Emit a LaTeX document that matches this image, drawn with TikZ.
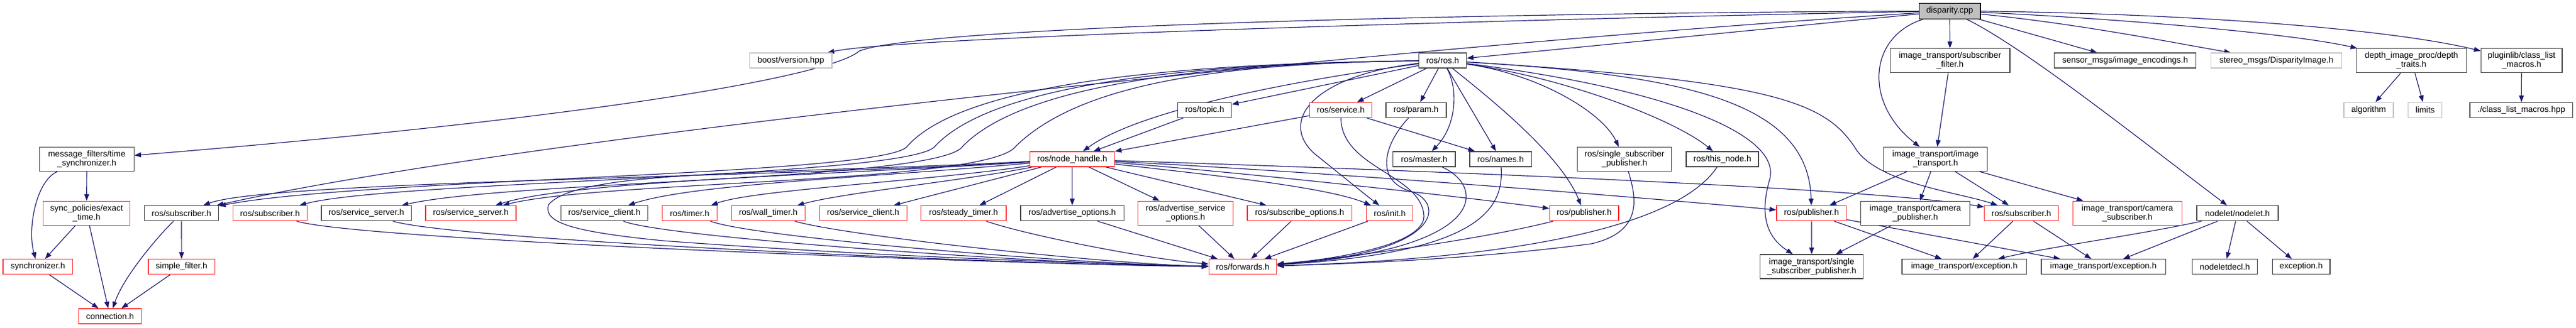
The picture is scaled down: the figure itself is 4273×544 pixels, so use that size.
\documentclass[tikz,border=0pt]{standalone}
\usepackage{fontspec}
\setmainfont{Liberation Sans}
\usetikzlibrary{arrows.meta}
\pgfdeclarelayer{bg}
\pgfsetlayers{bg,main}
\definecolor{edgeblue}{HTML}{191970}
\definecolor{nodered}{HTML}{FF2A2A}
\definecolor{nodeblack}{HTML}{404040}
\definecolor{nodegray}{HTML}{BFBFBF}
\newcommand\nodefs{\fontsize{14}{15}\selectfont}
\tikzset{
  nb/.style={draw=nodeblack, line width=1.3pt, fill=white, inner sep=0pt, font=\nodefs, align=center, rectangle},
  nr/.style={nb, draw=nodered},
  ng/.style={nb, draw=nodegray},
  one/.style={minimum height=25pt},
  two/.style={minimum height=40pt},
  e/.style={draw=edgeblue, line width=1.2pt, -{Triangle[length=11pt,width=8pt]}},
}
\begin{document}
\begin{tikzpicture}[x=1pt,y=-1pt]
\useasboundingbox (0,0) rectangle (4273,544);
% row 0
\node[nb, fill=nodegray, draw=black, minimum width=101.5pt, minimum height=26pt] (D) at (3234.2,18.2) {disparity.cpp};
% row 1
\node[ng, one, minimum width=136.4pt] (boost) at (1311.8,100.6) {boost/version.hpp};
\node[nb, one, minimum width=79pt] (ros) at (2393,100.6) {ros/ros.h};
\node[nb, two, minimum width=198.8pt] (subfilt) at (3234.6,100.8) {image\_transport/subscriber\\\_filter.h};
\node[nb, one, minimum width=235pt] (sensor) at (3525,100.6) {sensor\_msgs/image\_encodings.h};
\node[ng, one, minimum width=217pt] (stereo) at (3776.1,100.6) {stereo\_msgs/DisparityImage.h};
\node[nb, two, minimum width=182.4pt] (depth) at (4000,100.8) {depth\_image\_proc/depth\\\_traits.h};
\node[nb, two, minimum width=134.6pt] (plugin) at (4182.7,100.8) {pluginlib/class\_list\\\_macros.h};
% row 2
\node[nb, one, minimum width=89pt] (topic) at (1998.3,182.7) {ros/topic.h};
\node[nr, one, minimum width=103pt] (service) at (2224,182.7) {ros/service.h};
\node[nb, one, minimum width=100pt] (param) at (2348.9,182.7) {ros/param.h};
\node[ng, one, minimum width=82pt] (algorithm) at (3929,182.7) {algorithm};
\node[ng, one, minimum width=56pt] (limits) at (4022.7,182.7) {limits};
\node[nb, one, minimum width=170.7pt] (clm) at (4182.4,182.7) {./class\_list\_macros.hpp};
% row 3
\node[nb, two, minimum width=156.5pt] (mf) at (144,264.5) {message\_filters/time\\\_synchronizer.h};
\node[nr, one, minimum width=140pt] (nh) at (1778.6,264.4) {ros/node\_handle.h};
\node[nb, one, minimum width=103.3pt] (master) at (2362.4,264.4) {ros/master.h};
\node[nb, one, minimum width=102.4pt] (names) at (2489.1,264.4) {ros/names.h};
\node[nb, two, minimum width=156pt] (rssp) at (2694.6,264.5) {ros/single\_subscriber\\\_publisher.h};
\node[nb, one, minimum width=120pt] (thisnode) at (2857,264.4) {ros/this\_node.h};
\node[nb, two, minimum width=171.7pt] (itt) at (3210.5,264.5) {image\_transport/image\\\_transport.h};
% row 4
\node[nr, two, minimum width=144.2pt] (sync) at (143.7,354.2) {sync\_policies/exact\\\_time.h};
\node[nb, one, minimum width=123.5pt] (n1) at (301,354.3) {ros/subscriber.h};
\node[nr, one, minimum width=122.6pt] (n2) at (447.9,354.3) {ros/subscriber.h};
\node[nb, one, minimum width=149.3pt] (n3) at (607.7,354.3) {ros/service\_server.h};
\node[nr, one, minimum width=150pt] (n4) at (781,354.3) {ros/service\_server.h};
\node[nb, one, minimum width=144.2pt] (n5) at (1002.6,354.3) {ros/service\_client.h};
\node[nr, one, minimum width=91pt] (n6) at (1144,354.3) {ros/timer.h};
\node[nr, one, minimum width=122pt] (n7) at (1274.4,354.3) {ros/wall\_timer.h};
\node[nr, one, minimum width=145pt] (n8) at (1431.8,354.3) {ros/service\_client.h};
\node[nr, one, minimum width=141.4pt] (n9) at (1598.3,354.3) {ros/steady\_timer.h};
\node[nb, one, minimum width=171.3pt] (n10) at (1778.6,354.3) {ros/advertise\_options.h};
\node[nr, two, minimum width=158pt] (n11) at (1966.6,354.2) {ros/advertise\_service\\\_options.h};
\node[nr, one, minimum width=173.3pt] (n12) at (2155.7,354.3) {ros/subscribe\_options.h};
\node[nr, one, minimum width=77pt] (n13) at (2305.3,354.3) {ros/init.h};
\node[nr, one, minimum width=114.4pt] (n14) at (2627.8,354.3) {ros/publisher.h};
\node[nr, one, minimum width=115.7pt] (n15) at (3004.8,354.3) {ros/publisher.h};
\node[nb, two, minimum width=181pt] (n16) at (3177,354.2) {image\_transport/camera\\\_publisher.h};
\node[nr, one, minimum width=122.6pt] (n17) at (3353,354.3) {ros/subscriber.h};
\node[nr, two, minimum width=181pt] (n18) at (3528.8,354.2) {image\_transport/camera\\\_subscriber.h};
\node[nb, one, minimum width=135pt] (nodelet) at (3711.5,354.3) {nodelet/nodelet.h};
% row 5
\node[nr, one, minimum width=115.2pt] (syncr) at (62.7,443.3) {synchronizer.h};
\node[nr, one, minimum width=110.2pt] (simple) at (301.2,443.3) {simple\_filter.h};
\node[nr, one, minimum width=112.5pt] (fwd) at (2061.5,443.3) {ros/forwards.h};
\node[nb, two, minimum width=170.8pt] (itssp) at (3005.2,443) {image\_transport/single\\\_subscriber\_publisher.h};
\node[nb, one, minimum width=206.5pt] (exc1) at (3258.3,443.3) {image\_transport/exception.h};
\node[nb, one, minimum width=206.3pt] (exc2) at (3489,443.3) {image\_transport/exception.h};
\node[nb, one, minimum width=108pt] (ndecl) at (3690.6,443.3) {nodeletdecl.h};
\node[nb, one, minimum width=95.7pt] (exc) at (3817,443.3) {exception.h};
% row 6
\node[nr, one, minimum width=104.2pt] (conn) at (182.5,525.5) {connection.h};

\begin{pgfonlayer}{bg}
% disparity.cpp
\draw[e] (D) .. controls (2600,30) and (1500,60) .. (boost);
\draw[e] (D) -- (ros);
\draw[e] (D) .. controls (2400,22) and (1520,45) .. (1425,85) .. controls (1380,125) and (1000,195) .. (mf);
\draw[e] (D) .. controls (2400,70) and (900,220) .. (n1);
\draw[e] (D) -- (subfilt);
\draw[e] (D) .. controls (3100,60) and (3090,170) .. (itt);
\draw[e] (D) -- (sensor);
\draw[e] (D) .. controls (3450,40) and (3600,70) .. (stereo);
\draw[e] (D) .. controls (3500,30) and (3800,55) .. (depth);
\draw[e] (D) .. controls (3600,22) and (3950,45) .. (plugin);
\draw[e] (D) .. controls (3360,80) and (3560,240) .. (nodelet);
\draw[e] (subfilt) -- (itt);
% ros/ros.h
\draw[e] (ros) -- (topic);
\draw[e] (ros) .. controls (2100,140) and (1880,190) .. (nh);
\draw[e] (ros) -- (service);
\draw[e] (ros) -- (param);
\draw[e] (ros) .. controls (2420,150) and (2415,210) .. (master);
\draw[e] (ros) -- (names);
\draw[e] (ros) .. controls (2480,170) and (2590,260) .. (n14);
\draw[e] (ros) .. controls (2560,125) and (2660,190) .. (rssp);
\draw[e] (ros) .. controls (2600,130) and (2780,200) .. (thisnode);
\draw[e] (ros) .. controls (2800,125) and (3000,170) .. (n15);
\draw[e] (ros) .. controls (2950,135) and (3030,170) .. (3080,250) .. controls (3120,305) and (3250,320) .. (n17);
\draw[e] (ros) .. controls (2750,145) and (2960,220) .. (2935,300) .. controls (2915,370) and (2940,400) .. (itssp);
\draw[e] (ros) .. controls (2180,125) and (2120,200) .. (2180,255) .. controls (2230,295) and (2260,320) .. (n13);
\draw[e] (ros) .. controls (2000,105) and (1605,130) .. (1505,243) .. controls (1470,292) and (600,296) .. (n1);
\draw[e] (ros) .. controls (2000,105) and (1651,135) .. (1551,243) .. controls (1510,295) and (650,300) .. (n2);
\draw[e] (ros) .. controls (2000,105) and (1697,140) .. (1597,243) .. controls (1560,300) and (850,300) .. (n3);
\draw[e] (ros) .. controls (2000,105) and (1785,145) .. (1685,243) .. controls (1640,305) and (1000,300) .. (n4);
% ros/node_handle.h
\draw[e] (nh) .. controls (1300,295) and (450,300) .. (n1);
\draw[e] (nh) .. controls (1400,290) and (950,300) .. (n4);
\draw[e] (nh) .. controls (1450,295) and (1150,305) .. (n5);
\draw[e] (nh) .. controls (1550,300) and (1250,315) .. (n6);
\draw[e] (nh) .. controls (1600,300) and (1400,320) .. (n7);
\draw[e] (nh) -- (n8);
\draw[e] (nh) -- (n9);
\draw[e] (nh) -- (n10);
\draw[e] (nh) -- (n11);
\draw[e] (nh) -- (n12);
\draw[e] (nh) .. controls (2000,290) and (2200,310) .. (n13);
\draw[e] (nh) .. controls (2100,290) and (2450,330) .. (n14);
\draw[e] (nh) .. controls (2300,292) and (2800,335) .. (n15);
\draw[e] (nh) .. controls (2400,285) and (3100,312) .. (n17);
\draw[e] (nh) .. controls (1300,290) and (960,280) .. (910,340) .. controls (900,370) and (950,385) .. (1100,400) .. controls (1500,430) and (1900,440) .. (fwd);
% into ros/forwards.h
\draw[e] (n2) .. controls (600,400) and (1700,440) .. (fwd);
\draw[e] (n3) .. controls (760,400) and (1700,440) .. (fwd);
\draw[e] (n5) .. controls (1100,395) and (1750,440) .. (fwd);
\draw[e] (n6) .. controls (1250,395) and (1800,440) .. (fwd);
\draw[e] (n7) .. controls (1400,392) and (1850,440) .. (fwd);
\draw[e] (n9) .. controls (1700,390) and (1900,430) .. (fwd);
\draw[e] (n10) -- (fwd);
\draw[e] (n11) -- (fwd);
\draw[e] (n12) -- (fwd);
\draw[e] (n13) -- (fwd);
\draw[e] (n14) .. controls (2450,400) and (2200,432) .. (fwd);
\draw[e] (service) .. controls (2225,280) and (2360,290) .. (2362,360) .. controls (2360,410) and (2200,432) .. (fwd);
\draw[e] (param) .. controls (2295,240) and (2280,300) .. (2340,318) .. controls (2395,335) and (2400,420) .. (fwd);
\draw[e] (master) .. controls (2465,310) and (2470,415) .. (fwd);
\draw[e] (names) .. controls (2495,350) and (2450,420) .. (fwd);
\draw[e] (rssp) .. controls (2715,330) and (2725,385) .. (2640,405) .. controls (2450,430) and (2250,438) .. (fwd);
\draw[e] (thisnode) .. controls (2780,380) and (2500,430) .. (fwd);
% others
\draw[e] (topic) -- (nh);
\draw[e] (service) -- (nh);
\draw[e] (service) -- (names);
\draw[e] (mf) -- (sync);
\draw[e] (mf) .. controls (60,300) and (45,380) .. (syncr);
\draw[e] (sync) -- (syncr);
\draw[e] (sync) -- (conn);
\draw[e] (syncr) -- (conn);
\draw[e] (n1) .. controls (260,395) and (205,460) .. (conn);
\draw[e] (n1) -- (simple);
\draw[e] (simple) -- (conn);
\draw[e] (itt) -- (n15);
\draw[e] (itt) -- (n16);
\draw[e] (itt) -- (n17);
\draw[e] (itt) -- (n18);
\draw[e] (n15) -- (itssp);
\draw[e] (n15) -- (exc1);
\draw[e] (n15) -- (exc2);
\draw[e] (n16) -- (itssp);
\draw[e] (n17) -- (exc1);
\draw[e] (n17) -- (exc2);
\draw[e] (nodelet) .. controls (3550,390) and (3400,410) .. (exc1);
\draw[e] (nodelet) -- (exc2);
\draw[e] (nodelet) -- (ndecl);
\draw[e] (nodelet) -- (exc);
\draw[e] (depth) -- (algorithm);
\draw[e] (depth) -- (limits);
\draw[e] (plugin) -- (clm);
\end{pgfonlayer}
\end{tikzpicture}
\end{document}
